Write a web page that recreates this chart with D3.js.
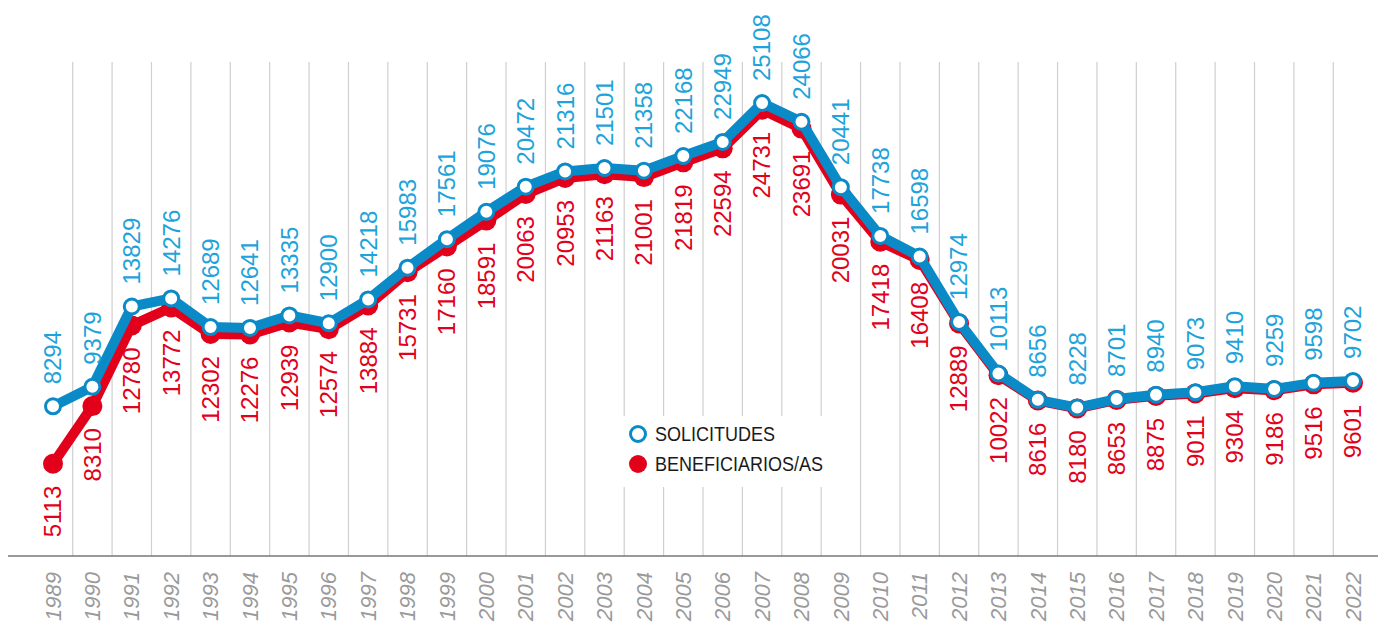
<!DOCTYPE html>
<html>
<head>
<meta charset="utf-8">
<script src="https://cdn.jsdelivr.net/npm/d3@7"></script>
<style>
  body { margin: 0; background: #fff; }
  svg { display: block; font-family: "Liberation Sans", Arial, sans-serif; }
</style>
</head>
<body>
<svg width="1378" height="623"></svg>
<script>
const years = d3.range(1989, 2023);
const solicitudes = [8294, 9379, 13829, 14276, 12689, 12641, 13335, 12900, 14218, 15983,
  17561, 19076, 20472, 21316, 21501, 21358, 22168, 22949, 25108, 24066,
  20441, 17738, 16598, 12974, 10113, 8656, 8228, 8701, 8940, 9073,
  9410, 9259, 9598, 9702];
const beneficiarios = [5113, 8310, 12780, 13772, 12302, 12276, 12939, 12574, 13884, 15731,
  17160, 18591, 20063, 20953, 21163, 21001, 21819, 22594, 24731, 23691,
  20031, 17418, 16408, 12889, 10022, 8616, 8180, 8653, 8875, 9011,
  9304, 9186, 9516, 9601];
const legendLabels = ["SOLICITUDES", "BENEFICIARIOS/AS"];

const blueLine = "#0a8ac6", blueText = "#1ea3da", red = "#e2001a";

const svg = d3.select("svg");
const baseY = 556;

// scales
const x = d3.scalePoint().domain(years).range([53, 1353]);
const y = d3.scaleLinear().domain([0, 25108]).range([baseY, 103]);
const step = x.step();

// vertical grid between years
svg.append("g")
  .selectAll("line")
  .data(years.slice(0, -1))
  .enter().append("line")
  .attr("x1", d => x(d) + step / 2)
  .attr("x2", d => x(d) + step / 2)
  .attr("y1", 62)
  .attr("y2", baseY)
  .attr("stroke", "#cfcfcf")
  .attr("stroke-width", 1.2);

// baseline
svg.append("line")
  .attr("x1", 8).attr("x2", 1378)
  .attr("y1", baseY).attr("y2", baseY)
  .attr("stroke", "#777")
  .attr("stroke-width", 1.5);

// year labels
svg.append("g")
  .selectAll("text")
  .data(years)
  .enter().append("text")
  .attr("transform", d => "translate(" + x(d) + "," + 572 + ") rotate(-90)")
  .attr("dy", "0.35em")
  .attr("text-anchor", "end")
  .attr("font-size", 22)
  .attr("font-style", "italic")
  .attr("fill", "#9a9a9a")
  .text(d => d);

const line = d3.line().x((d, i) => x(years[i])).y(d => y(d));

// beneficiarios
svg.append("path")
  .datum(beneficiarios)
  .attr("d", line)
  .attr("fill", "none")
  .attr("stroke", red)
  .attr("stroke-width", 10)
  .attr("stroke-linejoin", "round");

svg.append("g")
  .selectAll("circle")
  .data(beneficiarios)
  .enter().append("circle")
  .attr("cx", (d, i) => x(years[i]))
  .attr("cy", d => y(d))
  .attr("r", 10)
  .attr("fill", red);

// solicitudes
svg.append("path")
  .datum(solicitudes)
  .attr("d", line)
  .attr("fill", "none")
  .attr("stroke", blueLine)
  .attr("stroke-width", 10)
  .attr("stroke-linejoin", "round");

svg.append("g")
  .selectAll("circle")
  .data(solicitudes)
  .enter().append("circle")
  .attr("cx", (d, i) => x(years[i]))
  .attr("cy", d => y(d))
  .attr("r", 7.5)
  .attr("fill", "#fff")
  .attr("stroke", blueLine)
  .attr("stroke-width", 3);

// value labels
svg.append("g")
  .selectAll("text")
  .data(solicitudes)
  .enter().append("text")
  .attr("transform", (d, i) => "translate(" + x(years[i]) + "," + (y(d) - 22) + ") rotate(-90)")
  .attr("dy", "0.35em")
  .attr("text-anchor", "start")
  .attr("font-size", 24)
  .attr("fill", blueText)
  .text(d => d);

svg.append("g")
  .selectAll("text")
  .data(beneficiarios)
  .enter().append("text")
  .attr("transform", (d, i) => "translate(" + x(years[i]) + "," + (y(d) + 22) + ") rotate(-90)")
  .attr("dy", "0.35em")
  .attr("text-anchor", "end")
  .attr("font-size", 24)
  .attr("fill", red)
  .text(d => d);

// legend
const legend = svg.append("g");
legend.append("rect")
  .attr("x", 620).attr("y", 416)
  .attr("width", 220).attr("height", 71)
  .attr("fill", "#fff");

legend.append("circle")
  .attr("cx", 638).attr("cy", 434).attr("r", 7.5)
  .attr("fill", "#fff").attr("stroke", blueLine).attr("stroke-width", 3);
legend.append("circle")
  .attr("cx", 638).attr("cy", 464).attr("r", 9)
  .attr("fill", red);

legend.selectAll("text.leg")
  .data(legendLabels)
  .enter().append("text")
  .attr("class", "leg")
  .attr("transform", (d, i) => "translate(655," + (434 + i * 30) + ") scale(0.9,1)")
  .attr("dy", "0.35em")
  .attr("font-size", 20)
  .attr("fill", "#1a1a1a")
  .text(d => d);
</script>
</body>
</html>
